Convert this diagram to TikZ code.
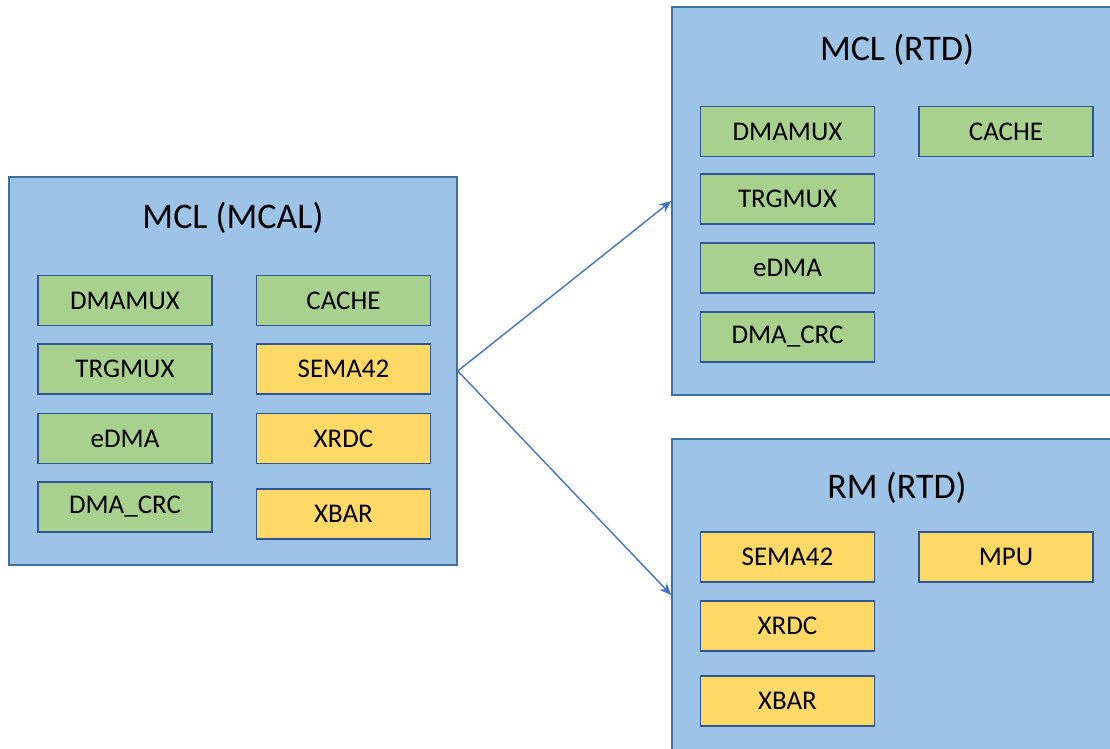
\documentclass[tikz,border=0pt]{standalone}
\usepackage{fontspec}
\setmainfont{Carlito}
\usetikzlibrary{arrows.meta}
\definecolor{outerfill}{HTML}{9DC3E6}
\definecolor{outerline}{HTML}{41719C}
\definecolor{greenfill}{HTML}{A9D18E}
\definecolor{yellowfill}{HTML}{FFD966}
\definecolor{innerline}{HTML}{2F5597}
\definecolor{arrowcol}{HTML}{4472C4}
\tikzset{
  container/.style={draw=outerline, fill=outerfill, line width=1.5pt, inner sep=0pt},
  gbox/.style={draw=innerline, fill=greenfill, line width=1.3pt, minimum width=174pt, minimum height=50pt, inner sep=0pt, text=black, font=\fontsize{27}{30}\selectfont},
  ybox/.style={gbox, fill=yellowfill},
  title/.style={font=\fontsize{36}{42}\selectfont, inner sep=0pt, text=black},
  link/.style={draw=arrowcol, line width=1.4pt, -{Stealth[length=12pt,width=10pt]}}
}
\begin{document}
\begin{tikzpicture}[x=1pt,y=-1pt]
\useasboundingbox (0,0) rectangle (1110,748);
\clip (0,0) rectangle (1110,748);
% containers
\node[container, minimum width=448pt, minimum height=388pt] (mcal) at (233,371) {};
\node[container, minimum width=448pt, minimum height=388pt] (rtd) at (896,201) {};
\node[container, minimum width=448pt, minimum height=312pt] (rm) at (896,595) {};
% titles
\node[title] (t1) at (233,218) {MCL (MCAL)};
\node[title] (t2) at (897,50) {MCL (RTD)};
\node[title] (t3) at (897,488) {RM (RTD)};
% MCAL inner
\node[gbox] (a1) at (125,300.5) {DMAMUX};
\node[gbox] (a2) at (125,369) {TRGMUX};
\node[gbox] (a3) at (125,438.5) {eDMA};
\node[gbox] (a4) at (125,507) {DMA\_CRC};
\node[gbox] (b1) at (343.5,300.5) {CACHE};
\node[ybox] (b2) at (343.5,369) {SEMA42};
\node[ybox] (b3) at (343.5,438.5) {XRDC};
\node[ybox] (b4) at (343.5,514) {XBAR};
% RTD inner
\node[gbox] (c1) at (787.5,131.5) {DMAMUX};
\node[gbox] (c2) at (787.5,199) {TRGMUX};
\node[gbox] (c3) at (787.5,268) {eDMA};
\node[gbox] (c4) at (787.5,337) {DMA\_CRC};
\node[gbox] (d1) at (1006,131.5) {CACHE};
% RM inner
\node[ybox] (e1) at (787.5,557) {SEMA42};
\node[ybox] (e2) at (787.5,626) {XRDC};
\node[ybox] (e3) at (787.5,701) {XBAR};
\node[ybox] (f1) at (1006,557) {MPU};
% arrows
\draw[link] (mcal.east) -- (rtd.west);
\draw[link] (mcal.east) -- (rm.west);
\end{tikzpicture}
\end{document}
